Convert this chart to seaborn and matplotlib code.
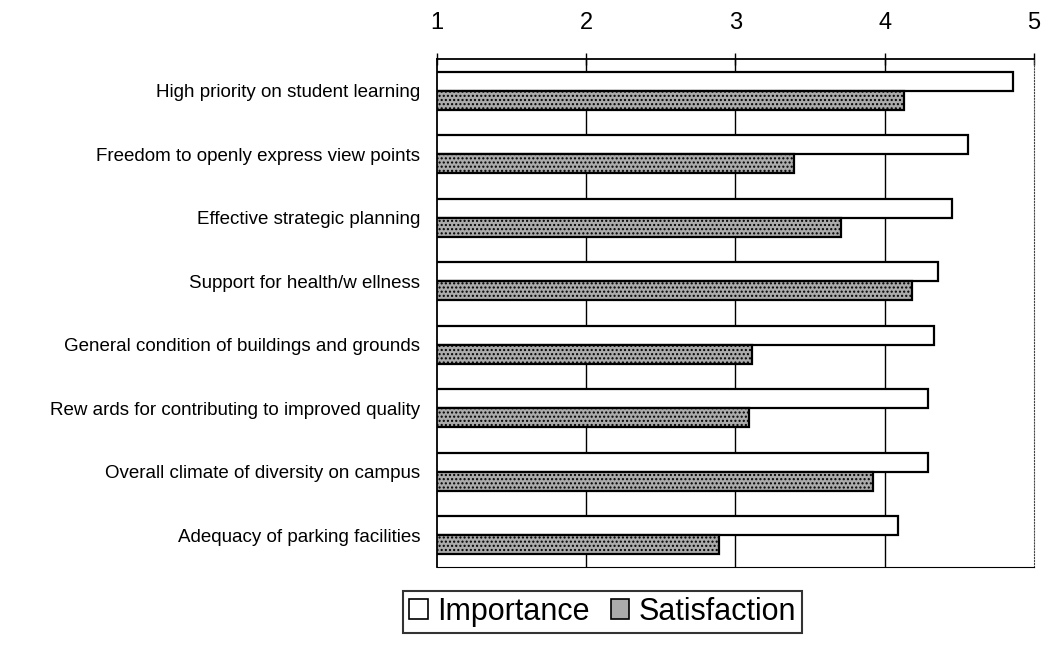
import pandas as pd
import numpy as np
import matplotlib
matplotlib.use('Agg')
import matplotlib.pyplot as plt
import seaborn as sns

categories = ['High priority on student learning',
              'Freedom to openly express view points',
              'Effective strategic planning',
              'Support for health/w ellness',
              'General condition of buildings and grounds',
              'Rew ards for contributing to improved quality',
              'Overall climate of diversity on campus',
              'Adequacy of parking facilities']
importance = [4.86, 4.56, 4.45, 4.36, 4.33, 4.29, 4.29, 4.09]
satisfaction = [4.13, 3.39, 3.71, 4.18, 3.11, 3.09, 3.92, 2.89]
series = ['Importance', 'Satisfaction']
x_ticks = [1, 2, 3, 4, 5]

df = pd.DataFrame({'item': categories * 2,
                   'score': importance + satisfaction,
                   'series': [series[0]] * len(categories) + [series[1]] * len(categories)})

sns.set_style('white')
plt.rcParams['font.family'] = ['Liberation Sans', 'DejaVu Sans']
plt.rcParams['text.color'] = 'black'
plt.rcParams['xtick.color'] = 'black'
plt.rcParams['ytick.color'] = 'black'
plt.rcParams['hatch.color'] = '#6a6a6a'

fig = plt.figure(figsize=(10.45, 6.46), dpi=100)
ax = fig.add_axes([0.418, 0.1223, 0.5715, 0.7864])

sns.barplot(data=df, y='item', x='score', hue='series', orient='h',
            palette={'Importance': 'white', 'Satisfaction': '#ababab'},
            width=0.6, edgecolor='black', linewidth=1.6, ax=ax, legend=True)

# stipple texture on satisfaction bars
for bar in ax.containers[1]:
    bar.set_hatch('....')

ax.set_xlim(1, 5)
ax.set_ylim(len(categories) - 0.5, -0.5)
ax.xaxis.tick_top()
ax.set_xticks(x_ticks)
ax.set_xticklabels([str(t) for t in x_ticks], fontsize=17)
ax.tick_params(axis='x', direction='inout', length=8, width=1, pad=14)
ax.set_yticks(range(len(categories)))
ax.set_yticklabels(categories, fontsize=13.5)
ax.tick_params(axis='y', which='major', length=0, pad=12)
ax.set_yticks(np.arange(-0.5, len(categories), 1), minor=True)
ax.tick_params(axis='y', which='minor', direction='out', length=5, width=1)
ax.set_xlabel('')
ax.set_ylabel('')

for t in x_ticks[1:-1]:
    ax.axvline(t, color='black', linewidth=1, zorder=0)

for side in ['left', 'top', 'bottom']:
    ax.spines[side].set_color('black')
    ax.spines[side].set_linewidth(1.3)
ax.spines['right'].set_linestyle(':')
ax.spines['right'].set_color('#444444')
ax.spines['bottom'].set_linewidth(0.8)

ax.get_legend().remove()
handles, labels = ax.get_legend_handles_labels()
leg = fig.legend(handles[:2], labels[:2], loc='center', bbox_to_anchor=(0.5765, 0.053),
                 ncol=2, fontsize=22, frameon=True, fancybox=False, edgecolor='black',
                 handlelength=0.6, handleheight=0.6, handletextpad=0.3,
                 columnspacing=0.7, borderpad=0.2, borderaxespad=0.3)
leg.get_frame().set_linewidth(1.5)
for h in leg.legend_handles:
    h.set_linewidth(1.2)

fig.savefig('out.png', dpi=100)
